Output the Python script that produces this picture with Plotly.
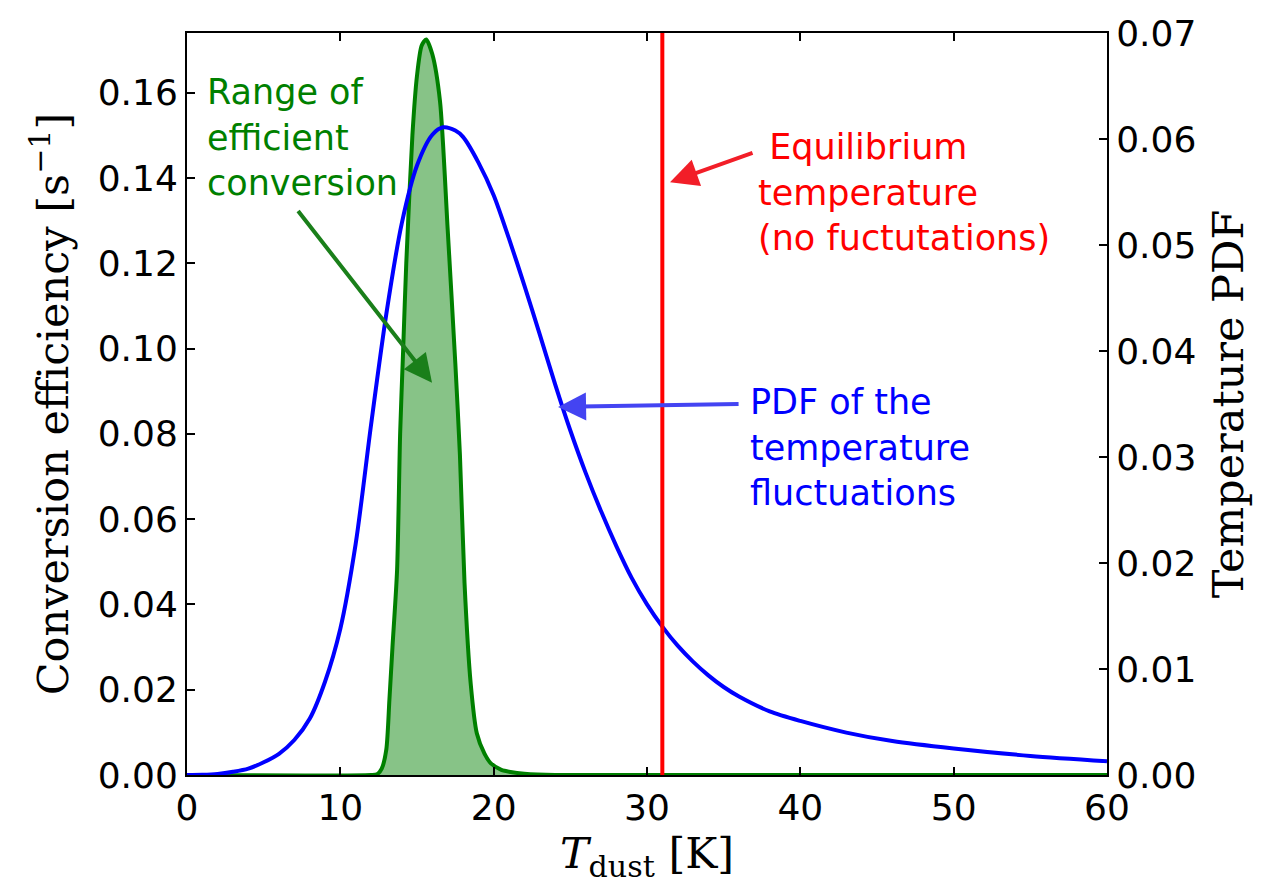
import plotly.graph_objects as go

# conversion efficiency (left axis)
t_eff = [0, 12.0, 12.4, 12.7, 13.0, 13.2, 13.4, 13.7, 13.9, 14.1, 14.3, 14.7, 15.0, 15.3, 15.6,
         16.0, 16.5, 17.0, 17.5, 17.8, 18.1, 18.5, 18.9, 19.4, 19.8, 20.5, 21.1, 22.0, 24.0, 60]
eff = [0, 0, 0.0002, 0.0015, 0.006, 0.0176, 0.030, 0.048, 0.080, 0.100, 0.120, 0.150, 0.164, 0.171, 0.1725,
       0.169, 0.158, 0.128, 0.0965, 0.075, 0.045, 0.0215, 0.0098, 0.0050, 0.0028, 0.0012, 0.0007,
       0.0003, 0, 0]

# temperature pdf (right axis)
t_pdf = [0, 1, 2, 3, 4, 5, 6, 7, 8, 9, 10, 11, 12, 13, 14, 15, 16, 16.7, 17.5, 18, 19, 20,
         21, 22, 23, 24, 25, 26, 27, 28, 29, 30, 31, 32, 33, 34, 35, 36, 38, 40, 43, 46, 50, 55, 60]
pdf = [0, 0.00002, 0.0001, 0.0003, 0.0006, 0.0012, 0.0020, 0.0033, 0.0053, 0.0088, 0.0138,
       0.0218, 0.0330, 0.0435, 0.0520, 0.0575, 0.0604, 0.0611, 0.0608, 0.0602, 0.0578, 0.0547,
       0.0506, 0.0462, 0.0416, 0.0369, 0.0325, 0.0285, 0.0249, 0.0216, 0.0186, 0.0161, 0.0140,
       0.0122, 0.0107, 0.0094, 0.0083, 0.0074, 0.0060, 0.0051, 0.0040, 0.0032, 0.0025, 0.0018,
       0.0013]

t_eq = 31.0

fig = go.Figure()

fig.add_trace(go.Scatter(x=t_eff, y=eff, mode='lines',
                         line=dict(color='#008000', width=4, shape='spline', smoothing=0.7),
                         fill='tozeroy', fillcolor='rgba(0,128,0,0.47)', yaxis='y'))
fig.add_trace(go.Scatter(x=t_pdf, y=pdf, mode='lines',
                         line=dict(color='#0000ff', width=4, shape='spline', smoothing=0.8),
                         yaxis='y2'))
fig.add_trace(go.Scatter(x=[t_eq, t_eq], y=[0, 0.07], mode='lines', line=dict(color='#ff0000', width=4),
                         yaxis='y2'))

tick_font = dict(family='DejaVu Sans', size=36, color='black')
title_font = dict(family='DejaVu Serif', size=43, color='black')

# page body adds an 8px offset, so the figure is sized to fill the rest of the window
fig.update_layout(
    width=1279, height=878,
    margin=dict(l=179, r=180, t=25, b=111),
    plot_bgcolor='white', paper_bgcolor='white',
    showlegend=False,
    xaxis=dict(range=[0, 60], tickvals=[0, 10, 20, 30, 40, 50, 60], ticks='inside', ticklen=8,
               tickwidth=1.5, tickcolor='black', showline=True, linewidth=2, linecolor='black',
               mirror='ticks', showgrid=False, zeroline=False, tickfont=tick_font, automargin=False,
               title=dict(text='<i>T</i><sub>dust</sub> [K]', font=title_font, standoff=6)),
    yaxis=dict(range=[0, 0.174], tickvals=[0, 0.02, 0.04, 0.06, 0.08, 0.10, 0.12, 0.14, 0.16],
               tickformat='.2f', ticks='inside', ticklen=8, tickwidth=1.5, tickcolor='black',
               showline=True, linewidth=2, linecolor='black', showgrid=False, zeroline=False,
               tickfont=tick_font, automargin=False,
               title=dict(text='Conversion efficiency [s<sup>−1</sup>]', font=title_font, standoff=16)),
    yaxis2=dict(range=[0, 0.07], tickvals=[0, 0.01, 0.02, 0.03, 0.04, 0.05, 0.06, 0.07],
                tickformat='.2f', overlaying='y', side='right', ticks='inside', ticklen=8,
                tickwidth=1.5, tickcolor='black', showline=True, linewidth=2, linecolor='black',
                showgrid=False, zeroline=False, tickfont=tick_font, automargin=False,
                title=dict(text='Temperature PDF', font=title_font, standoff=18)),
)

text_size = 35

# labels
fig.add_annotation(x=1.17, y=0.1654, xref='x', yref='y', xanchor='left', yanchor='top', align='left',
                   text='Range of<br>efficient<br>conversion', showarrow=False,
                   font=dict(family='DejaVu Sans', size=text_size, color='#008000'))
fig.add_annotation(x=37.1, y=0.1525, xref='x', yref='y', xanchor='left', yanchor='top', align='left',
                   text='&nbsp;Equilibrium<br>temperature<br>(no fuctutations)', showarrow=False,
                   font=dict(family='DejaVu Sans', size=text_size, color='#ff0000'))
fig.add_annotation(x=36.6, y=0.0927, xref='x', yref='y', xanchor='left', yanchor='top', align='left',
                   text='PDF of the<br>temperature<br>fluctuations', showarrow=False,
                   font=dict(family='DejaVu Sans', size=text_size, color='#0000ff'))

# arrows
arrows = [
    (15.98, 0.092, 7.17, 0.1326, '#1a7f1a'),
    (31.5, 0.139, 36.98, 0.146, '#f21e28'),
    (24.2, 0.0863, 36.07, 0.087, '#4444f2'),
]
for hx, hy, tx, ty, col in arrows:
    fig.add_annotation(x=hx, y=hy, ax=tx, ay=ty, xref='x', yref='y', axref='x', ayref='y',
                       text='', showarrow=True, arrowhead=2, arrowsize=1.4, arrowwidth=4,
                       arrowcolor=col)

fig.write_html("out.html")
